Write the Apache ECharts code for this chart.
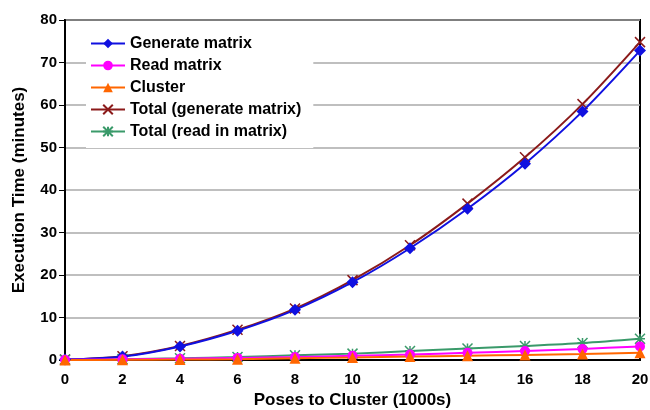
<!DOCTYPE html>
<html><head><meta charset="utf-8">
<script src="https://cdn.jsdelivr.net/npm/echarts@6/dist/echarts.min.js"></script>
<style>html,body{margin:0;padding:0;background:#fff}#c{width:650px;height:410px}</style>
</head><body><div id="c"></div>
<script>
const poses = [0,2,4,6,8,10,12,14,16,18,20];
const generateMatrix = [0.1,0.8,3.2,6.9,11.8,18.3,26.3,35.6,46.2,58.5,72.8];
const readMatrix = [0.05,0.15,0.3,0.5,0.7,1.0,1.3,1.7,2.1,2.6,3.2];
const cluster = [0,0.05,0.1,0.2,0.4,0.6,0.8,1.0,1.2,1.4,1.7];
const totalGenerate = [0.1,0.9,3.3,7.1,12.1,18.8,27.0,36.8,47.7,60.2,74.8];
const totalRead = [0.05,0.2,0.4,0.7,1.1,1.5,2.1,2.7,3.3,4.0,5.0];
const seriesNames = ['Generate matrix','Read matrix','Cluster','Total (generate matrix)','Total (read in matrix)'];

const font = '"Liberation Sans", Arial, sans-serif';
const pair = arr => poses.map((p,i)=>[p,arr[i]]);
const crossPath = 'path://M0,0L10,10M10,0L0,10';
const starPath = 'path://M0,0L10,10M10,0L0,10M5,0L5,10M0,5L10,5';

const chart = echarts.init(document.getElementById('c'));
chart.setOption({
  animation:false,
  textStyle:{fontFamily:font},
  grid:{left:65,right:10,top:20,bottom:50,show:true,borderColor:'#000',borderWidth:2,backgroundColor:'#fff',
        containLabel:false,outerBoundsMode:'none'},
  legend:{
    orient:'vertical',left:86,top:31,itemWidth:34,itemHeight:12,itemGap:5,
    backgroundColor:'#fff',padding:[4,12,8,4],
    textStyle:{fontFamily:font,fontWeight:'bold',fontSize:16,color:'#000',lineHeight:17},
    data:seriesNames
  },
  xAxis:{
    type:'value',min:0,max:20,interval:2,
    name:'Poses to Cluster (1000s)',nameLocation:'middle',nameGap:30,
    nameTextStyle:{fontFamily:font,fontWeight:'bold',fontSize:17,color:'#000'},
    axisLine:{lineStyle:{color:'#000',width:2}},
    axisTick:{show:false},
    axisLabel:{fontFamily:font,fontWeight:'bold',fontSize:15,color:'#000',margin:12},
    splitLine:{show:false}
  },
  yAxis:{
    type:'value',min:0,max:80,interval:10,
    name:'Execution Time (minutes)',nameLocation:'middle',nameGap:37,
    nameTextStyle:{fontFamily:font,fontWeight:'bold',fontSize:17,color:'#000'},
    axisLine:{show:true,lineStyle:{color:'#000',width:2}},
    axisTick:{show:true,length:6,lineStyle:{color:'#000'}},
    axisLabel:{fontFamily:font,fontWeight:'bold',fontSize:15,color:'#000',margin:8},
    splitLine:{lineStyle:{color:'#aaa',width:1.5}}
  },
  series:[
    {name:seriesNames[3],type:'line',smooth:0.3,data:pair(totalGenerate),
     symbol:crossPath,symbolSize:10,lineStyle:{color:'#8b1a1a',width:2},
     itemStyle:{color:'#8b1a1a',borderColor:'#8b1a1a',borderWidth:1.5},z:2},
    {name:seriesNames[4],type:'line',smooth:0.3,data:pair(totalRead),
     symbol:starPath,symbolSize:10,lineStyle:{color:'#3a9a6a',width:2},
     itemStyle:{color:'#3a9a6a',borderColor:'#3a9a6a',borderWidth:1.5},z:2},
    {name:seriesNames[0],type:'line',smooth:0.3,data:pair(generateMatrix),
     symbol:'diamond',symbolSize:12,lineStyle:{color:'#1010e0',width:2},
     itemStyle:{color:'#1010e0'},z:3},
    {name:seriesNames[1],type:'line',smooth:0.3,data:pair(readMatrix),
     symbol:'circle',symbolSize:10,lineStyle:{color:'#ff00ff',width:2},
     itemStyle:{color:'#ff00ff'},z:3},
    {name:seriesNames[2],type:'line',smooth:0.3,data:pair(cluster),
     symbol:'triangle',symbolSize:11,lineStyle:{color:'#ff6600',width:2},
     itemStyle:{color:'#ff6600'},z:3}
  ]
});
</script>
</body></html>
